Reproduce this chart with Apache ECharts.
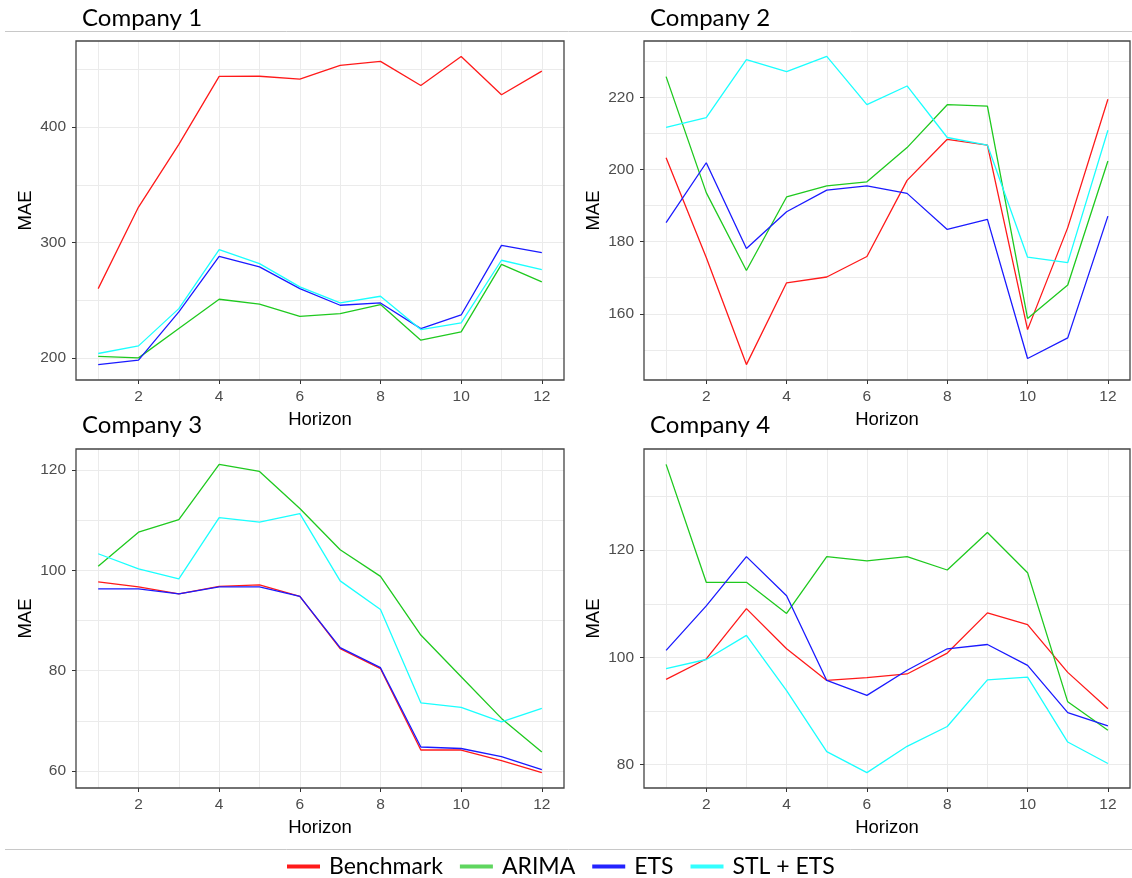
<!DOCTYPE html>
<html>
<head>
<meta charset="utf-8">
<script src="https://cdn.jsdelivr.net/npm/echarts@6/dist/echarts.min.js"></script>
<style>
  html, body { margin: 0; padding: 0; background: #fff; }
  #chart { width: 1132px; height: 878px; }
</style>
</head>
<body>
<div id="chart"></div>
<script>
// horizon 1..12
const horizon = [1, 2, 3, 4, 5, 6, 7, 8, 9, 10, 11, 12];
const xTicks = [2, 4, 6, 8, 10, 12];

const methods = ["Benchmark", "ARIMA", "ETS", "STL + ETS"];
const companies = ["Company 1", "Company 2", "Company 3", "Company 4"];

// Company 1
const c1Benchmark = [260, 330.7, 385, 443.9, 444, 441.6, 453.4, 456.9, 436, 461.2, 428, 448.5];
const c1Arima = [201.4, 200, 225.4, 250.8, 246.5, 236, 238.4, 246.2, 215.3, 222.5, 281, 265.8];
const c1Ets = [194.2, 198, 239.8, 288, 278.8, 260, 245.6, 247.6, 225.4, 237.2, 297.5, 291.2];
const c1Stl = [203.8, 210.4, 242.7, 293.8, 281.7, 261.5, 247.6, 253.4, 224.5, 230.3, 284.6, 276.5];

// Company 2
const c2Benchmark = [203.3, 175.6, 145.9, 168.6, 170.2, 175.9, 197, 208.4, 206.8, 155.6, 183.9, 219.5];
const c2Arima = [225.8, 193.6, 172, 192.4, 195.5, 196.6, 206.1, 218, 217.6, 158.7, 168, 202.4];
const c2Ets = [185.3, 201.9, 178.1, 188.3, 194.3, 195.5, 193.4, 183.4, 186.2, 147.6, 153.3, 187.1];
const c2Stl = [211.7, 214.4, 230.5, 227.2, 231.4, 218, 223.2, 208.9, 206.8, 175.7, 174.2, 210.9];

// Company 3
const c3Benchmark = [97.7, 96.7, 95.3, 96.8, 97.1, 94.8, 84.4, 80.4, 64.2, 64.2, 62.1, 59.7];
const c3Arima = [100.8, 107.6, 110.1, 121.1, 119.7, 112.3, 104.1, 98.8, 87.1, 78.8, 70.5, 63.8];
const c3Ets = [96.3, 96.3, 95.3, 96.7, 96.7, 94.8, 84.6, 80.6, 64.8, 64.5, 62.9, 60.3];
const c3Stl = [103.3, 100.3, 98.3, 110.5, 109.6, 111.3, 97.9, 92.2, 73.6, 72.7, 69.8, 72.5];

// Company 4
const c4Benchmark = [95.9, 99.7, 109.1, 101.6, 95.7, 96.2, 96.9, 100.8, 108.3, 106.1, 97.2, 90.4];
const c4Arima = [136, 114, 114, 108.2, 118.8, 118, 118.8, 116.3, 123.3, 115.8, 91.7, 86.4];
const c4Ets = [101.3, 109.6, 118.8, 111.5, 95.7, 92.9, 97.6, 101.6, 102.4, 98.5, 89.7, 87.2];
const c4Stl = [97.9, 99.6, 104.1, 93.8, 82.4, 78.5, 83.4, 87.1, 95.8, 96.3, 84.2, 80.2];

const yTicks1 = [200, 300, 400];
const yTicks2 = [160, 180, 200, 220];
const yTicks3 = [60, 80, 100, 120];
const yTicks4 = [80, 100, 120];

const panelData = [
  [c1Benchmark, c1Arima, c1Ets, c1Stl],
  [c2Benchmark, c2Arima, c2Ets, c2Stl],
  [c3Benchmark, c3Arima, c3Ets, c3Stl],
  [c4Benchmark, c4Arima, c4Ets, c4Stl]
];
const panelTicks = [yTicks1, yTicks2, yTicks3, yTicks4];
const panelSplit = [3, 5, 3, 3];

const lineColors = ["#ff1a1a", "#1fc91f", "#1a1aff", "#1affff"];
const legendColors = ["#ff1a1a", "#5fd65f", "#2323ff", "#33ffff"];

// panel boxes [left, top, width, height]
const boxes = [
  [76, 41, 488, 339],
  [644, 41, 486, 339],
  [76, 449, 488, 339],
  [644, 449, 486, 339]
];
const titlePos = [[82, 18], [650, 18], [82, 425], [650, 425]];

const chart = echarts.init(document.getElementById("chart"));

const grids = [], xAxes = [], yAxes = [], series = [], graphics = [];

boxes.forEach((b, p) => {
  grids.push({ left: b[0], top: b[1], width: b[2], height: b[3], containLabel: false });

  // ggplot style 5% expansion
  const pad = v => (v.max - v.min) * 0.05;

  xAxes.push({
    type: "value",
    gridIndex: p,
    min: v => v.min - pad(v),
    max: v => v.max + pad(v),
    name: "Horizon",
    nameLocation: "middle",
    nameGap: 30,
    nameTextStyle: { fontFamily: "Liberation Sans", fontSize: 18.5, color: "#000" },
    axisLine: { show: false },
    axisTick: { show: true, length: 4, lineStyle: { color: "#333" }, customValues: xTicks },
    axisLabel: { fontFamily: "Liberation Sans", fontSize: 15.5, color: "#4d4d4d", margin: 9, customValues: xTicks },
    splitLine: { show: true, lineStyle: { color: "#ebebeb", width: 1 } },
    minorTick: { show: false, splitNumber: 2 },
    minorSplitLine: { show: true, lineStyle: { color: "#ebebeb", width: 1 } }
  });

  yAxes.push({
    type: "value",
    gridIndex: p,
    min: v => v.min - pad(v),
    max: v => v.max + pad(v),
    splitNumber: panelSplit[p],
    name: "MAE",
    nameLocation: "middle",
    nameGap: 41,
    nameTextStyle: { fontFamily: "Liberation Sans", fontSize: 18.5, color: "#000" },
    axisLine: { show: false },
    axisTick: { show: true, length: 4, lineStyle: { color: "#333" }, customValues: panelTicks[p] },
    axisLabel: { fontFamily: "Liberation Sans", fontSize: 15.5, color: "#4d4d4d", margin: 10, customValues: panelTicks[p] },
    splitLine: { show: true, lineStyle: { color: "#ebebeb", width: 1 } },
    minorTick: { show: false, splitNumber: 2 },
    minorSplitLine: { show: true, lineStyle: { color: "#ebebeb", width: 1 } }
  });

  methods.forEach((m, k) => {
    series.push({
      name: m,
      type: "line",
      xAxisIndex: p,
      yAxisIndex: p,
      showSymbol: false,
      symbol: "none",
      lineStyle: { width: 1.3, color: lineColors[k] },
      itemStyle: { color: lineColors[k] },
      data: horizon.map((h, i) => [h, panelData[p][k][i]])
    });
  });

  // panel border
  graphics.push({
    type: "rect",
    z: 100,
    shape: { x: b[0], y: b[1], width: b[2], height: b[3] },
    style: { fill: "none", stroke: "#444", lineWidth: 1.3 }
  });

  graphics.push({
    type: "text",
    z: 100,
    x: titlePos[p][0],
    y: titlePos[p][1],
    style: {
      text: companies[p],
      font: "24px Lato",
      fill: "#000",
      textAlign: "left",
      textVerticalAlign: "middle"
    }
  });
});

// separator lines
graphics.push({
  type: "line", z: 100,
  shape: { x1: 5, y1: 31.5, x2: 1132, y2: 31.5 },
  style: { stroke: "#c8c8c8", lineWidth: 1 }
});
graphics.push({
  type: "line", z: 100,
  shape: { x1: 5, y1: 849.5, x2: 1132, y2: 849.5 },
  style: { stroke: "#c8c8c8", lineWidth: 1 }
});

chart.setOption({
  animation: false,
  backgroundColor: "#fff",
  grid: grids,
  xAxis: xAxes,
  yAxis: yAxes,
  series: series,
  graphic: graphics,
  legend: {
    left: 282,
    top: 850,
    icon: "rect",
    itemWidth: 33,
    itemHeight: 4,
    itemGap: 17,
    textStyle: { fontFamily: "Lato", fontSize: 23, color: "#000", padding: [0, 0, 0, 4] },
    data: methods.map((m, k) => ({ name: m, itemStyle: { color: legendColors[k] } }))
  }
});
</script>
</body>
</html>
